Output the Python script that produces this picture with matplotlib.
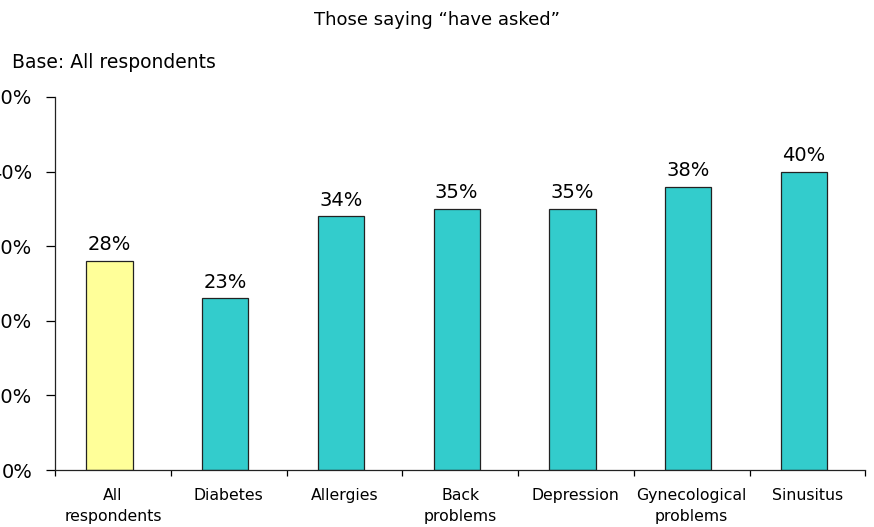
import matplotlib.pyplot as plt
import numpy as np

plt.rcParams['font.family'] = 'DejaVu Sans'

# data
categories = ['All\nrespondents', 'Diabetes', 'Allergies', 'Back\nproblems',
              'Depression', 'Gynecological\nproblems', 'Sinusitus']
values = [28, 23, 34, 35, 35, 38, 40]
colors = ['#FFFF99'] + ['#33CCCC'] * 6
yticks = [0, 10, 20, 30, 40, 50]

fig = plt.figure(figsize=(8.74, 5.27), dpi=100)
ax = fig.add_axes([0.063, 0.108, 0.927, 0.708])

x = np.arange(len(categories))
bars = ax.bar(x - 0.03, values, width=0.4, color=colors, edgecolor='#222222', linewidth=0.9)

for b, v in zip(bars, values):
    ax.text(b.get_x() + b.get_width() / 2, v + 0.9, f'{v}%',
            ha='center', va='bottom', fontsize=14)

ax.set_xlim(-0.5, len(categories) - 0.5)
ax.set_ylim(0, 50)
ax.set_yticks(yticks)
ax.set_yticklabels([f'{t}%' for t in yticks], fontsize=14)
ax.tick_params(axis='y', length=6.5, width=0.9, pad=10)

# category labels centred, tick marks on the boundaries
ax.set_xticks(x)
ax.set_xticklabels(categories, fontsize=11.3, linespacing=1.45)
ax.tick_params(axis='x', which='major', length=0, pad=13)
ax.set_xticks(np.arange(-0.5, len(categories)), minor=True)
ax.tick_params(axis='x', which='minor', length=4, width=0.9)

for s in ['top', 'right']:
    ax.spines[s].set_visible(False)
for s in ['left', 'bottom']:
    ax.spines[s].set_linewidth(0.9)
    ax.spines[s].set_color('#222222')

fig.text(0.5, 0.962, 'Those saying \u201chave asked\u201d', ha='center', va='center', fontsize=13)
fig.text(0.014, 0.882, 'Base: All respondents', ha='left', va='center', fontsize=13.5)

fig.savefig('out.png', dpi=100)
